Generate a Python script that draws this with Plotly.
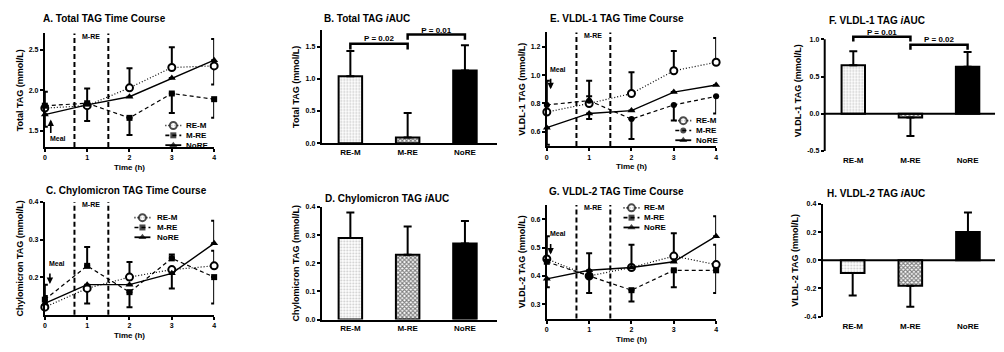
import plotly.graph_objects as go

W, H = 1004, 352
FONT = "Liberation Sans, Arial, sans-serif"

time_h = [0, 1, 2, 3, 4]
groups = ["RE-M", "M-RE", "NoRE"]

# ---- A. Total TAG time course (mean, error up, error down)
A_rem = [1.78, 1.81, 2.03, 2.28, 2.30]
A_rem_up = [0, 0, 0.24, 0.25, 0]
A_rem_dn = [0, 0.19, 0, 0, 0.23]
A_mre = [1.81, 1.84, 1.66, 1.96, 1.89]
A_mre_up = [0.17, 0.18, 0, 0, 0]
A_mre_dn = [0, 0, 0.21, 0.24, 0.23]
A_nore = [1.70, 1.82, 1.92, 2.15, 2.37]
A_nore_up = [0, 0, 0, 0, 0.26]
A_nore_dn = [0.15, 0, 0, 0, 0]

# ---- C. Chylomicron TAG time course
C_rem = [0.12, 0.17, 0.20, 0.22, 0.23]
C_rem_up = [0, 0, 0.04, 0, 0.04]
C_rem_dn = [0, 0.04, 0, 0, 0]
C_mre = [0.14, 0.23, 0.16, 0.25, 0.20]
C_mre_up = [0.04, 0.05, 0, 0.01, 0]
C_mre_dn = [0, 0, 0.04, 0, 0.07]
C_nore = [0.13, 0.18, 0.18, 0.21, 0.29]
C_nore_up = [0.02, 0, 0, 0, 0.06]
C_nore_dn = [0, 0, 0, 0.04, 0]

# ---- E. VLDL-1 TAG time course
E_rem = [0.74, 0.80, 0.87, 1.03, 1.09]
E_rem_up = [0, 0.16, 0.15, 0.14, 0.17]
E_rem_dn = [0, 0, 0, 0, 0]
E_mre = [0.79, 0.82, 0.69, 0.79, 0.85]
E_mre_up = [0.17, 0.03, 0, 0, 0]
E_mre_dn = [0, 0, 0.14, 0.11, 0.12]
E_nore = [0.63, 0.73, 0.75, 0.88, 0.93]
E_nore_up = [0, 0, 0, 0, 0]
E_nore_dn = [0.12, 0.04, 0, 0, 0]

# ---- G. VLDL-2 TAG time course
G_rem = [0.46, 0.40, 0.43, 0.47, 0.44]
G_rem_up = [0.08, 0, 0.08, 0.08, 0.07]
G_rem_dn = [0, 0, 0, 0, 0]
G_mre = [0.45, 0.40, 0.35, 0.42, 0.42]
G_mre_up = [0, 0, 0, 0, 0]
G_mre_dn = [0, 0.06, 0.04, 0.06, 0.08]
G_nore = [0.39, 0.42, 0.43, 0.45, 0.54]
G_nore_up = [0, 0.06, 0, 0, 0.07]
G_nore_dn = [0.03, 0, 0, 0, 0]

# ---- iAUC bars (mean, error)
B_iauc = [1.04, 0.09, 1.13]
B_err = [0.39, 0.38, 0.39]
D_iauc = [0.29, 0.23, 0.27]
D_err = [0.09, 0.10, 0.08]
F_iauc = [0.65, -0.05, 0.63]
F_err = [0.19, 0.25, 0.20]
H_iauc = [-0.09, -0.18, 0.20]
H_err = [0.16, 0.15, 0.14]

# significance brackets: (group a, group b, label)
B_sig = [(0, 1, "P = 0.02"), (1, 2, "P = 0.01")]
F_sig = [(0, 1, "P = 0.01"), (1, 2, "P = 0.02")]

fig = go.Figure()


def px(x):
    return x / W


def py(y):
    return 1 - y / H


BLACK = "black"
tick_font = dict(family=FONT, size=7, color=BLACK, weight="bold")
title_font = dict(family=FONT, size=9, color=BLACK, weight="bold")

axis_common = dict(showgrid=False, zeroline=False, showline=True, linecolor=BLACK,
                   linewidth=2, ticks="outside", ticklen=3, tickwidth=1.5, tickcolor=BLACK,
                   tickfont=tick_font)

# domains (pixel) : left, right, top, bottom
panels = {
    1: (43, 213, 30, 146),
    2: (321, 497, 27, 142),
    3: (43, 213, 202, 317),
    4: (321, 497, 207, 322),
    5: (547, 717, 29, 145),
    6: (826, 997, 27, 150),
    7: (547, 717, 205, 321),
    8: (824, 997, 204, 319),
}

layout = dict(width=W, height=H, margin=dict(l=0, r=0, t=0, b=0),
              plot_bgcolor="rgba(0,0,0,0)", paper_bgcolor="white",
              font=dict(family=FONT, color=BLACK), showlegend=False, barmode="overlay")

line_cfg = {
    1: dict(yr=[1.3, 2.7], yt=[1.5, 2.0, 2.5], ytxt=["1.5", "2.0", "2.5"], ytitle="Total TAG (mmol/L)"),
    3: dict(yr=[0.1, 0.4], yt=[0.2, 0.3, 0.4], ytxt=["0.2", "0.3", "0.4"], ytitle="Chylomicron TAG (mmol/L)"),
    5: dict(yr=[0.5, 1.3], yt=[0.6, 0.8, 1.0, 1.2], ytxt=["0.6", "0.8", "1.0", "1.2"], ytitle="VLDL-1 TAG (mmol/L)"),
    7: dict(yr=[0.25, 0.65], yt=[0.3, 0.4, 0.5, 0.6], ytxt=["0.3", "0.4", "0.5", "0.6"], ytitle="VLDL-2 TAG (mmol/L)"),
}
bar_cfg = {
    2: dict(yr=[0, 1.75], yt=[0, 0.5, 1.0, 1.5], ytxt=["0.0", "0.5", "1.0", "1.5"], ytitle="Total TAG (mmol/L)", xr=[-0.5, 2.56]),
    4: dict(yr=[0, 0.4], yt=[0, 0.1, 0.2, 0.3, 0.4], ytxt=["0.0", "0.1", "0.2", "0.3", "0.4"], ytitle="Chylomicron TAG (mmol/L)", xr=[-0.5, 2.56]),
    6: dict(yr=[-0.5, 1.118], yt=[-0.5, 0, 0.5, 1.0], ytxt=["-0.5", "0.0", "0.5", "1.0"], ytitle="VLDL-1 TAG (mmol/L)", xr=[-0.5, 2.48]),
    8: dict(yr=[-0.4, 0.4], yt=[-0.4, -0.2, 0, 0.2, 0.4], ytxt=["-0.4", "-0.2", "0.0", "0.2", "0.4"], ytitle="VLDL-2 TAG (mmol/L)", xr=[-0.52, 2.47]),
}
# visible extent of the F value axis (axis line drawn only over the tick span)
F_axis_span = [-0.5, 1.0]

for i, (l, r, t, b) in panels.items():
    xk = "xaxis" if i == 1 else f"xaxis{i}"
    yk = "yaxis" if i == 1 else f"yaxis{i}"
    xa = dict(axis_common)
    ya = dict(axis_common)
    xa["domain"] = [px(l), px(r)]
    ya["domain"] = [py(b), py(t)]
    xa["anchor"] = "y" if i == 1 else f"y{i}"
    ya["anchor"] = "x" if i == 1 else f"x{i}"
    if i in line_cfg:
        c = line_cfg[i]
        xa.update(range=[0, 4], tickvals=time_h, ticktext=[str(v) for v in time_h],
                  title=dict(text="Time (h)", font=dict(title_font, size=8), standoff=4))
    else:
        c = bar_cfg[i]
        xa.update(range=c["xr"], tickvals=[0, 1, 2], ticktext=groups, ticks="",
                  tickfont=dict(family=FONT, size=8, color=BLACK, weight="bold"))
        if i in (6, 8):
            xa["showline"] = False
            xa["ticklabelstandoff"] = 3
    ya.update(range=c["yr"], tickvals=c["yt"], ticktext=c["ytxt"],
              title=dict(text=c["ytitle"], font=title_font, standoff=4))
    if i == 6:
        ya["showline"] = False
    layout[xk] = xa
    layout[yk] = ya

# full-figure overlay axes (pixel units) used only for legend keys
layout["xaxis9"] = dict(domain=[0, 1], range=[0, W], visible=False, anchor="y9", fixedrange=True)
layout["yaxis9"] = dict(domain=[0, 1], range=[H, 0], visible=False, anchor="x9", fixedrange=True)

fig.update_layout(**layout)

fig.add_shape(type="line", xref="x6 domain", yref="y6", x0=0, x1=0,
              y0=F_axis_span[0], y1=F_axis_span[1], line=dict(color=BLACK, width=2))

styles = {
    "RE-M": dict(dash="1px,2px", width=1.2, symbol="circle", size=7, fill="white", mline=2),
    "M-RE": dict(dash="4px,3px", width=1.2, symbol="square", size=6, fill=BLACK, mline=0),
    "NoRE": dict(dash="solid", width=1.4, symbol="triangle-up", size=7, fill=BLACK, mline=0),
}

line_data = {
    1: [(A_rem, A_rem_up, A_rem_dn), (A_mre, A_mre_up, A_mre_dn), (A_nore, A_nore_up, A_nore_dn)],
    3: [(C_rem, C_rem_up, C_rem_dn), (C_mre, C_mre_up, C_mre_dn), (C_nore, C_nore_up, C_nore_dn)],
    5: [(E_rem, E_rem_up, E_rem_dn), (E_mre, E_mre_up, E_mre_dn), (E_nore, E_nore_up, E_nore_dn)],
    7: [(G_rem, G_rem_up, G_rem_dn), (G_mre, G_mre_up, G_mre_dn), (G_nore, G_nore_up, G_nore_dn)],
}
mre_symbol = {1: "square", 3: "square", 5: "circle", 7: "square"}


def sym_for(i, g):
    return mre_symbol[i] if g == "M-RE" else styles[g]["symbol"]


for i, series in line_data.items():
    xr = "x" if i == 1 else f"x{i}"
    yr = "y" if i == 1 else f"y{i}"
    for g, (vals, up, dn) in zip(groups, series):
        s = styles[g]
        fig.add_trace(go.Scatter(
            x=time_h, y=vals, xaxis=xr, yaxis=yr, name=g, mode="lines+markers",
            cliponaxis=False,
            line=dict(color=BLACK, dash=s["dash"], width=s["width"]),
            marker=dict(symbol=sym_for(i, g), size=s["size"], color=s["fill"],
                        line=dict(color=BLACK, width=s["mline"])),
            error_y=dict(type="data", symmetric=False, array=up, arrayminus=dn,
                         color=BLACK, thickness=2, width=3),
        ))

bar_data = {2: (B_iauc, B_err), 4: (D_iauc, D_err), 6: (F_iauc, F_err), 8: (H_iauc, H_err)}
patterns = [
    dict(shape=".", fgcolor="#909090", bgcolor="white", size=3, solidity=0.3),
    dict(shape="x", fgcolor=BLACK, bgcolor="white", size=3, solidity=0.6),
    dict(shape="", fgcolor=BLACK, bgcolor=BLACK),
]
fills = ["white", "white", BLACK]

for i, (vals, err) in bar_data.items():
    xr = f"x{i}"
    yr = f"y{i}"
    up = [e if v >= 0 else 0 for v, e in zip(vals, err)]
    dn = [e if v < 0 else 0 for v, e in zip(vals, err)]
    for k, g in enumerate(groups):
        fig.add_trace(go.Bar(
            x=[k], y=[vals[k]], xaxis=xr, yaxis=yr, width=0.41, name=g,
            marker=dict(color=fills[k], pattern=patterns[k], line=dict(color=BLACK, width=2)),
            error_y=dict(type="data", symmetric=False, array=[up[k]], arrayminus=[dn[k]],
                         color=BLACK, thickness=2, width=4),
        ))
    if i in (6, 8):
        fig.add_shape(type="line", xref=f"x{i} domain", yref=yr, x0=0, x1=1, y0=0, y1=0,
                      line=dict(color=BLACK, width=2), layer="above")

# exercise window lines and labels
for i in line_data:
    xr = "x" if i == 1 else f"x{i}"
    yr = "y" if i == 1 else f"y{i}"
    for xv in (0.7, 1.5):
        fig.add_shape(type="line", xref=xr, yref=f"{yr} domain", x0=xv, x1=xv, y0=0, y1=1,
                      line=dict(color=BLACK, width=2, dash="5px,3px"))
    fig.add_annotation(x=1.1, y=1, xref=xr, yref=f"{yr} domain", text="M-RE", showarrow=False,
                       yanchor="middle", yshift=-3, font=dict(family=FONT, size=7, color=BLACK, weight="bold"))

# meal arrows: (panel, x, arrow tip y, text y, direction)
meal = {1: (0.14, 1.64, 1.40, "up"), 3: (0.12, 0.182, 0.237, "down"),
        5: (0.09, 0.90, 1.04, "down"), 7: (0.09, 0.476, 0.548, "down")}
for i, (xv, tip, ty, d) in meal.items():
    xr = "x" if i == 1 else f"x{i}"
    yr = "y" if i == 1 else f"y{i}"
    fig.add_annotation(x=xv, y=tip, xref=xr, yref=yr, ax=0, ay=(15 if d == "up" else -12),
                       text="", showarrow=True, arrowhead=2, arrowsize=0.8, arrowwidth=1.6,
                       arrowcolor=BLACK)
    fig.add_annotation(x=xv, y=ty, xref=xr, yref=yr, text="Meal", showarrow=False,
                       xanchor="left", xshift=-3, font=dict(family=FONT, size=7, color=BLACK, weight="bold"))

# significance brackets (scatter lines + text)
for i, sig, levels in ((2, B_sig, [(1.545, 1.455, 1.62), (1.686, 1.606, 1.745)]),
                       (6, F_sig, [(1.035, 0.97, 1.09), (0.925, 0.86, 0.985)])):
    for (a, b, lab), (top, leg, ty) in zip(sig, levels):
        fig.add_trace(go.Scatter(x=[a, a, b, b], y=[leg, top, top, leg], xaxis=f"x{i}", yaxis=f"y{i}",
                                 mode="lines", cliponaxis=False, hoverinfo="skip",
                                 line=dict(color=BLACK, width=2.5)))
        fig.add_trace(go.Scatter(x=[(a + b) / 2], y=[ty], xaxis=f"x{i}", yaxis=f"y{i}",
                                 mode="text", text=[lab], cliponaxis=False, hoverinfo="skip",
                                 textfont=dict(family=FONT, size=8, color=BLACK, weight="bold")))

# panel titles
titles = [
    ("A. Total TAG Time Course", 103, 15),
    ("B. Total TAG <i>i</i>AUC", 366, 15),
    ("E. VLDL-1 TAG Time Course", 617, 15),
    ("F. VLDL-1 TAG <i>i</i>AUC", 879, 17),
    ("C. Chylomicron TAG Time Course", 125, 190),
    ("D. Chylomicron TAG <i>i</i>AUC", 387, 198),
    ("G. VLDL-2 TAG Time Course", 617, 191),
    ("H. VLDL-2 TAG <i>i</i>AUC", 877, 193),
]
for txt, x, y in titles:
    fig.add_annotation(x=px(x), y=py(y), xref="paper", yref="paper", text=txt, showarrow=False,
                       xanchor="center", yanchor="middle",
                       font=dict(family=FONT, size=10, color=BLACK, weight="bold"))

# compact legends (key centre x, text left x, first row y), pixel positions
legend_pos = {1: (172, 183, 124), 3: (141, 154, 218), 5: (684, 695, 119), 7: (632, 643, 208)}
ROW = 10
for i, (kx, tx, y0) in legend_pos.items():
    for r, g in enumerate(groups):
        s = styles[g]
        yy = y0 + r * ROW
        fig.add_trace(go.Scatter(
            x=[kx - 8, kx, kx + 8], y=[yy, yy, yy], xaxis="x9", yaxis="y9",
            mode="lines+markers", cliponaxis=False, hoverinfo="skip",
            line=dict(color=BLACK, dash=s["dash"], width=s["width"] + 0.4),
            marker=dict(symbol=sym_for(i, g), size=[0, s["size"], 0], color=s["fill"],
                        line=dict(color=BLACK, width=[0, s["mline"], 0])),
        ))
        fig.add_annotation(x=px(tx), y=py(yy), xref="paper", yref="paper", text=g,
                           showarrow=False, xanchor="left", yanchor="middle",
                           font=dict(family=FONT, size=8, color=BLACK, weight="bold"))

fig.write_html("out.html")
